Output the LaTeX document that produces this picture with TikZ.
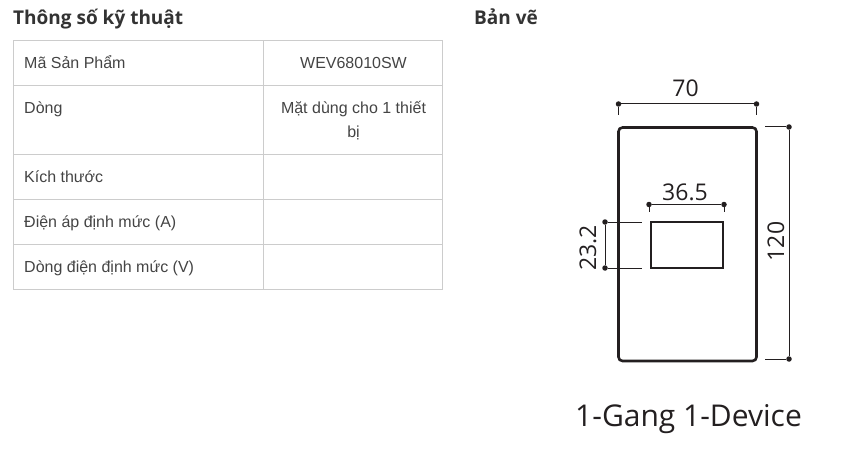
\documentclass[tikz,border=0pt]{standalone}
\usepackage{fontspec}
\setmainfont{Liberation Sans}
\newfontfamily\headfont{Open Sans}
\definecolor{gridgray}{HTML}{CCCCCC}
\definecolor{textgray}{HTML}{444444}
\definecolor{headgray}{HTML}{333333}
\definecolor{inkdark}{HTML}{231F20}
\tikzset{
	heading/.style={anchor=base west,inner sep=0pt,text=headgray,font=\headfont\bfseries\fontsize{19}{19}\selectfont},
	cell/.style={anchor=base west,inner sep=0pt,text=textgray,font=\fontsize{16}{16}\selectfont},
	valuecell/.style={anchor=base,inner sep=0pt,text=textgray,font=\fontsize{16}{16}\selectfont},
	gridline/.style={draw=gridgray,line width=1pt},
	outline/.style={draw=inkdark,line width=2.6pt,rounded corners=4pt},
	dimline/.style={draw=inkdark,line width=1pt},
	dimlabel/.style={inner sep=0pt,text=inkdark,font=\headfont\fontsize{23}{23}\selectfont},
	dimdot/.style={circle,fill=inkdark,inner sep=0pt,minimum size=5.5pt}
}
\begin{document}
\begin{tikzpicture}[x=1pt,y=-1pt]
	\useasboundingbox (0,0) rectangle (853,449);

	\node[heading] (titlespec) at (13,25) {Thông số kỹ thuật};
	\node[heading] (titledraw) at (474,25) {Bản vẽ};

	\draw[gridline] (13.5,40.5) rectangle (442.5,289.5);
	\draw[gridline] (263.5,40.5) -- (263.5,289.5);
	\draw[gridline] (13.5,85.5) -- (442.5,85.5);
	\draw[gridline] (13.5,154.5) -- (442.5,154.5);
	\draw[gridline] (13.5,199.5) -- (442.5,199.5);
	\draw[gridline] (13.5,244.5) -- (442.5,244.5);

	\node[cell] (code) at (24,68.5) {Mã Sản Phẩm};
	\node[cell] (line) at (24,113.5) {Dòng};
	\node[cell] (size) at (24,182.5) {Kích thước};
	\node[cell] (volt) at (24,227) {Điện áp định mức (A)};
	\node[cell] (amp) at (24,272) {Dòng điện định mức (V)};
	\node[valuecell] (codeval) at (353.5,68.5) {WEV68010SW};
	\node[valuecell] (lineval) at (353.5,113.5) {Mặt dùng cho 1 thiết};
	\node[valuecell] (linevalb) at (353.5,137.5) {bị};

	\draw[outline] (618.5,127.5) rectangle (756.5,361);
	\draw[draw=inkdark,line width=2.6pt] (651,222) rectangle (723,268);

	% width 70
	\node[dimdot] (wa) at (618.5,104) {};
	\node[dimdot] (wb) at (756.5,104) {};
	\coordinate (wat) at (618.5,115);
	\coordinate (wbt) at (756.5,115);
	\draw[dimline] (wa) -- (wb);
	\draw[dimline] (wa) -- (wat);
	\draw[dimline] (wb) -- (wbt);
	\node[dimlabel] (wlabel) at (685.5,88) {70};

	% opening 36.5
	\node[dimdot] (oa) at (649,204.5) {};
	\node[dimdot] (ob) at (724,204.5) {};
	\coordinate (oat) at (649,212);
	\coordinate (obt) at (724,212);
	\draw[dimline] (oa) -- (ob);
	\draw[dimline] (oa) -- (oat);
	\draw[dimline] (ob) -- (obt);
	\node[dimlabel] (olabel) at (685,192.5) {36.5};

	% opening 23.2
	\node[dimdot] (ha) at (605,222) {};
	\node[dimdot] (hb) at (605,268) {};
	\coordinate (hat) at (642,222);
	\coordinate (hbt) at (642,268);
	\draw[dimline] (ha) -- (hb);
	\draw[dimline] (ha) -- (hat);
	\draw[dimline] (hb) -- (hbt);
	\node[dimlabel,rotate=90] (hlabel) at (588,248) {23.2};

	% height 120
	\node[dimdot] (ta) at (789,127) {};
	\node[dimdot] (tb) at (789,359) {};
	\coordinate (tat) at (765,127);
	\coordinate (tbt) at (765,359);
	\draw[dimline] (ta) -- (tb);
	\draw[dimline] (ta) -- (tat);
	\draw[dimline] (tb) -- (tbt);
	\node[dimlabel,rotate=90] (tlabel) at (776,241.5) {120};

	\node[inner sep=0pt,text=inkdark,font=\headfont\fontsize{30}{30}\selectfont] (caption) at (688.5,419.5) {1-Gang 1-Device};
\end{tikzpicture}
\end{document}
